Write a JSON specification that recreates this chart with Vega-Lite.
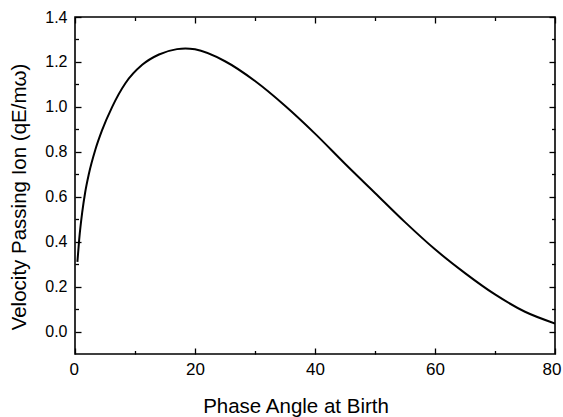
{
  "$schema": "https://vega.github.io/schema/vega-lite/v6.json",
  "width": 480,
  "height": 337,
  "autosize": {"type": "none"},
  "padding": {"left": 75, "top": 17, "right": 8, "bottom": 63},
  "background": "white",
  "config": {
    "view": {"stroke": "black", "strokeWidth": 1.6},
    "axis": {
      "domain": false,
      "grid": false,
      "tickColor": "black",
      "tickWidth": 1.3,
      "labelColor": "black",
      "titleColor": "black",
      "labelFont": "Liberation Sans",
      "titleFont": "Liberation Sans",
      "titleFontWeight": "normal",
      "labelOverlap": false
    }
  },
  "data": {
    "values": [
      {"phase": 0.4, "velocity": 0.31},
      {"phase": 0.7, "velocity": 0.41},
      {"phase": 1.2, "velocity": 0.53},
      {"phase": 1.7, "velocity": 0.62},
      {"phase": 2.3, "velocity": 0.70},
      {"phase": 3.4, "velocity": 0.81},
      {"phase": 4.5, "velocity": 0.895},
      {"phase": 6.2, "velocity": 1.0},
      {"phase": 8.4, "velocity": 1.105},
      {"phase": 11.2, "velocity": 1.187},
      {"phase": 14.0, "velocity": 1.233},
      {"phase": 17.0, "velocity": 1.257},
      {"phase": 18.4, "velocity": 1.26},
      {"phase": 20.0, "velocity": 1.256},
      {"phase": 25.0, "velocity": 1.203},
      {"phase": 30.0, "velocity": 1.115},
      {"phase": 35.0, "velocity": 1.005},
      {"phase": 40.0, "velocity": 0.881},
      {"phase": 45.0, "velocity": 0.747},
      {"phase": 50.0, "velocity": 0.617},
      {"phase": 55.0, "velocity": 0.487},
      {"phase": 60.0, "velocity": 0.366},
      {"phase": 65.0, "velocity": 0.26},
      {"phase": 70.0, "velocity": 0.165},
      {"phase": 75.0, "velocity": 0.088},
      {"phase": 80.0, "velocity": 0.036}
    ]
  },
  "layer": [
    {
      "mark": {"type": "line", "color": "black", "strokeWidth": 2, "interpolate": "monotone", "clip": true},
      "encoding": {
        "x": {
          "field": "phase", "type": "quantitative",
          "scale": {"domain": [0, 80], "nice": false, "zero": false},
          "axis": {
            "orient": "bottom", "values": [0, 20, 40, 60, 80], "tickSize": -6,
            "labelPadding": 13, "labelFontSize": 17,
            "labelFlush": true, "labelFlushOffset": 6,
            "title": "Phase Angle at Birth", "titleFontSize": 20.5,
            "titleX": 220.5, "titleY": 58, "titleBaseline": "alphabetic"
          }
        },
        "y": {
          "field": "velocity", "type": "quantitative",
          "scale": {"domain": [-0.1, 1.4], "nice": false, "zero": false},
          "axis": {
            "orient": "left", "values": [0, 0.2, 0.4, 0.6, 0.8, 1.0, 1.2, 1.4], "format": ".1f",
            "tickSize": -6, "labelPadding": 14, "labelFontSize": 16,
            "title": "Velocity Passing Ion (qE/mω)", "titleFontSize": 20.5,
            "titleAngle": 270, "titleX": -50, "titleY": 179.5, "titleBaseline": "alphabetic"
          }
        }
      }
    },
    {
      "mark": {"type": "line", "opacity": 0},
      "encoding": {
        "x": {"field": "phase", "type": "quantitative",
          "axis": {"orient": "top", "values": [0, 20, 40, 60, 80], "tickSize": -6, "labels": false, "title": null}},
        "y": {"field": "velocity", "type": "quantitative",
          "axis": {"orient": "right", "values": [0, 0.2, 0.4, 0.6, 0.8, 1.0, 1.2, 1.4], "tickSize": -6, "labels": false, "title": null}}
      }
    },
    {
      "mark": {"type": "line", "opacity": 0},
      "encoding": {
        "x": {"field": "phase", "type": "quantitative",
          "axis": {"orient": "bottom", "values": [10, 30, 50, 70], "tickSize": -3.5, "labels": false, "title": null}},
        "y": {"field": "velocity", "type": "quantitative",
          "axis": {"orient": "left", "values": [0.1, 0.3, 0.5, 0.7, 0.9, 1.1, 1.3], "tickSize": -3.5, "labels": false, "title": null}}
      }
    },
    {
      "mark": {"type": "line", "opacity": 0},
      "encoding": {
        "x": {"field": "phase", "type": "quantitative",
          "axis": {"orient": "top", "values": [10, 30, 50, 70], "tickSize": -3.5, "labels": false, "title": null}},
        "y": {"field": "velocity", "type": "quantitative",
          "axis": {"orient": "right", "values": [0.1, 0.3, 0.5, 0.7, 0.9, 1.1, 1.3], "tickSize": -3.5, "labels": false, "title": null}}
      }
    }
  ],
  "resolve": {"axis": {"x": "independent", "y": "independent"}}
}
